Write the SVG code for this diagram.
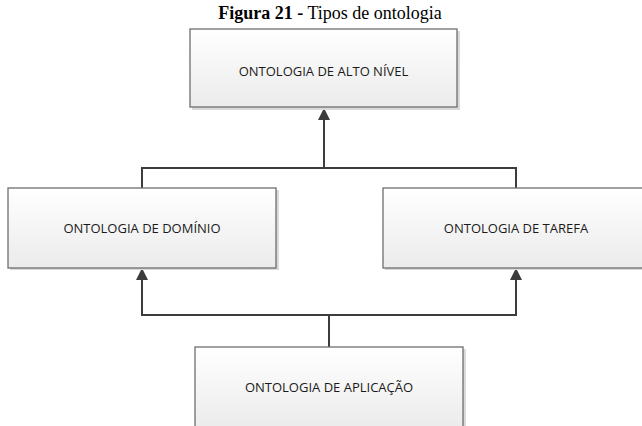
<svg xmlns="http://www.w3.org/2000/svg" width="642" height="426" viewBox="0 0 642 426">
  <defs>
    <linearGradient id="boxFill" x1="0" y1="0" x2="0" y2="1">
      <stop offset="0" stop-color="#ffffff"/>
      <stop offset="1" stop-color="#ebebeb"/>
    </linearGradient>
    <marker id="arrow" viewBox="0 0 12 12" refX="12" refY="6" markerWidth="12" markerHeight="12" markerUnits="userSpaceOnUse" orient="auto">
      <path d="M0,0 L12,6 L0,12 Z" fill="#3c3c3c"/>
    </marker>
  </defs>
  <style>
    .shadow { fill: #dadada; }
    .box { fill: url(#boxFill); stroke: #6e6e6e; stroke-width: 1.3; }
    .label { font-family: "Open Sans", "Liberation Sans", sans-serif; font-size: 13px; fill: #1a1a1a; text-anchor: middle; dominant-baseline: central; }
    .title { font-family: "Liberation Serif", "Times New Roman", serif; font-size: 18px; fill: #000; text-anchor: middle; }
    .link { fill: none; stroke: #3c3c3c; stroke-width: 2; }
  </style>

  <rect width="642" height="426" fill="#ffffff"/>

  <text class="title" x="330" y="19"><tspan font-weight="bold">Figura 21 -</tspan> Tipos de ontologia</text>

  <g id="connectors">
    <path class="link" d="M142,188 V168 H516 V188 M324,168 V108" marker-end="url(#arrow)"/>
    <path class="link" d="M329,347 V315 H142 V268" marker-end="url(#arrow)"/>
    <path class="link" d="M329,315 H516 V268" marker-end="url(#arrow)"/>
  </g>

  <g id="alto-nivel">
    <rect class="shadow" x="192" y="31" width="268" height="79"/>
    <rect class="box" x="190" y="29" width="267" height="78"/>
    <text class="label" x="323.5" y="71">ONTOLOGIA DE ALTO NÍVEL</text>
  </g>

  <g id="dominio">
    <rect class="shadow" x="10" y="190" width="269" height="80"/>
    <rect class="box" x="8" y="188" width="268" height="80"/>
    <text class="label" x="142" y="228">ONTOLOGIA DE DOMÍNIO</text>
  </g>

  <g id="tarefa">
    <rect class="shadow" x="385" y="190" width="269" height="80"/>
    <rect class="box" x="383" y="188" width="268" height="80"/>
    <text class="label" x="516" y="228">ONTOLOGIA DE TAREFA</text>
  </g>

  <g id="aplicacao">
    <rect class="shadow" x="197" y="349" width="269" height="80"/>
    <rect class="box" x="195" y="347" width="268" height="82"/>
    <text class="label" x="329" y="387">ONTOLOGIA DE APLICAÇÃO</text>
  </g>
</svg>
